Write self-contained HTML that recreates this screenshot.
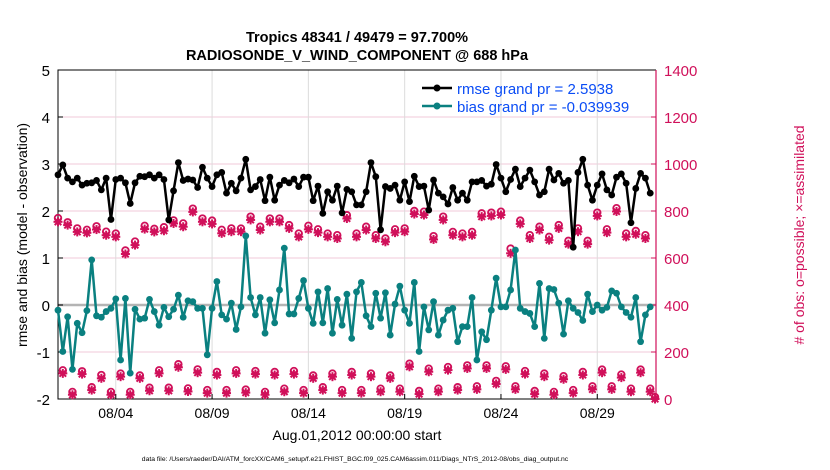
<!DOCTYPE html>
<html><head><meta charset="utf-8"><style>
body{margin:0;background:#fff;}
svg{display:block;font-family:"Liberation Sans",sans-serif;}
</style></head><body>
<svg id="chart" width="830" height="470" viewBox="0 0 830 470">
<text x="357" y="42" text-anchor="middle" font-size="14.5" font-weight="bold">Tropics 48341 / 49479 = 97.700%</text>
<text x="357" y="60" text-anchor="middle" font-size="14.5" font-weight="bold">RADIOSONDE_V_WIND_COMPONENT @ 688 hPa</text>
<g id="grid"></g>
<g id="axes"></g>
<g id="series"></g>
<g id="legend">
<line x1="422" y1="88" x2="452" y2="88" stroke="#000" stroke-width="2.5"/>
<circle cx="437" cy="88" r="3.5" fill="#000"/>
<text x="457" y="94" font-size="15" fill="#0a4cf5">rmse grand pr = 2.5938</text>
<line x1="422" y1="106" x2="452" y2="106" stroke="#0a8080" stroke-width="2.5"/>
<circle cx="437" cy="106" r="3.5" fill="#0a8080"/>
<text x="457" y="112" font-size="15" fill="#0a4cf5">bias grand pr = -0.039939</text>
</g>
<text transform="translate(27,235) rotate(-90)" text-anchor="middle" font-size="14">rmse and bias (model - observation)</text>
<text transform="translate(804,235) rotate(-90)" text-anchor="middle" font-size="14" fill="#d0105a"># of obs: o=possible; ×=assimilated</text>
<text x="357" y="440" text-anchor="middle" font-size="14">Aug.01,2012 00:00:00 start</text>
<text x="355" y="461" text-anchor="middle" font-size="6.8">data file: /Users/raeder/DAI/ATM_forcXX/CAM6_setup/f.e21.FHIST_BGC.f09_025.CAM6assim.011/Diags_NTrS_2012-08/obs_diag_output.nc</text>
</svg>
<script>
const rmse=[2.77,2.98,2.70,2.62,2.70,2.55,2.59,2.60,2.65,2.45,2.70,1.82,2.67,2.70,2.60,2.16,2.60,2.74,2.73,2.77,2.70,2.77,2.67,1.81,2.43,3.03,2.65,2.68,2.66,2.50,2.93,2.70,
2.52,2.77,2.82,2.38,2.59,2.43,2.70,3.10,2.45,2.52,2.67,2.22,2.72,2.23,2.55,2.65,2.60,2.68,2.52,2.72,2.72,2.22,2.53,1.95,2.41,2.23,2.53,1.96,2.46,2.41,2.13,2.13,
2.41,3.03,2.73,1.60,2.52,2.48,2.55,2.23,2.62,2.20,2.74,2.52,2.53,2.02,2.66,2.38,2.30,2.15,2.50,2.23,2.38,2.23,2.62,2.62,2.65,2.53,2.57,2.99,2.70,2.41,
2.67,2.89,2.52,2.70,2.87,2.62,2.34,2.41,2.89,2.66,2.80,2.59,2.65,1.23,2.82,3.10,2.55,2.23,2.55,2.79,2.45,2.34,2.72,2.79,2.59,1.75,2.48,2.80,2.70,2.38];
const bias=[-0.11,-0.99,-0.25,-1.37,-0.39,-0.59,-0.12,0.96,-0.23,-0.26,-0.14,-0.07,0.13,-1.17,0.14,-1.45,-0.09,-0.30,-0.28,0.12,-0.14,-0.43,-0.05,-0.25,-0.09,0.21,-0.26,0.09,0.07,-0.07,-0.07,-1.06,
-0.07,0.50,-0.21,-0.30,0.04,-0.52,-0.04,1.47,0.16,-0.21,0.16,-0.60,0.11,-0.38,0.32,1.21,-0.19,-0.19,0.14,0.52,-0.07,-0.39,0.28,-0.38,0.35,-0.60,0.12,-0.43,0.23,-0.71,0.28,0.48,
-0.23,-0.46,0.25,-0.28,0.26,-0.64,0.02,0.40,-0.11,-0.39,0.48,-0.99,-0.04,-0.53,0.07,-0.64,-0.32,-0.11,-0.07,-0.78,-0.46,-0.46,0.16,-1.17,-0.57,-0.74,-0.11,0.57,-0.04,-0.04,
0.32,1.17,-0.07,-0.14,-0.18,-0.46,0.46,-0.71,0.35,0.33,0.04,-0.62,0.09,-0.07,-0.16,-0.33,0.23,-0.14,0.00,-0.11,-0.05,0.30,0.25,-0.04,-0.16,-0.26,0.16,-0.78,-0.21,-0.04];
const assimilated=[754,109,740,18,711,106,707,38,721,88,697,18,690,95,617,18,655,88,723,35,711,109,716,35,747,135,733,32,796,112,754,25,
745,102,705,25,712,109,712,27,762,106,719,18,754,102,754,31,726,106,690,25,722,88,708,38,690,95,683,25,768,102,690,
25,719,95,683,31,669,88,708,31,712,137,787,21,783,116,679,31,762,123,697,38,690,130,697,41,776,130,779,64,783,126,
620,41,745,106,683,21,719,95,676,18,726,84,659,25,712,102,659,41,779,112,708,41,798,91,690,31,701,112,683,31,0];
const possible=[770,122,752,30,726,118,720,50,735,102,712,30,704,108,632,30,670,100,737,48,724,122,731,48,760,148,747,45,810,126,768,38,
759,115,720,38,726,122,725,40,776,119,733,30,768,115,768,44,740,119,704,38,737,100,722,50,704,108,697,38,782,115,704,
38,733,108,697,44,683,100,722,44,726,150,800,34,797,129,693,44,776,136,711,50,704,143,711,54,790,143,793,77,797,139,
640,54,759,119,697,34,733,108,690,30,740,97,673,38,726,115,673,54,793,125,722,54,812,104,704,44,715,125,697,44,8];
const xTickLabels=["08/04","08/09","08/14","08/19","08/24","08/29"];
const xTickDays=[3,8,13,18,23,28];
const yTicksLeft=[-2,-1,0,1,2,3,4,5];
const yTicksRight=[0,200,400,600,800,1000,1200,1400];

const L=58,R=656,T=70,B=399;
const NS="http://www.w3.org/2000/svg";
const xDay=d=>L+d*(R-L)/31.05;
const xIdx=i=>xDay(i*0.25);
const yL=v=>B-(v+2)*(B-T)/7;
const yR=v=>B-v*(B-T)/1400;
function mk(tag,attrs,parent){const e=document.createElementNS(NS,tag);for(const k in attrs)e.setAttribute(k,attrs[k]);parent.appendChild(e);return e;}
const grid=document.getElementById('grid'),axes=document.getElementById('axes'),ser=document.getElementById('series');
mk('rect',{x:L,y:T,width:R-L,height:B-T,fill:'#fff'},grid);
yTicksRight.forEach(v=>{const g=mk('line',{x1:L,x2:R,y1:yR(v),y2:yR(v),stroke:'#f2c8d8','stroke-width':1},grid);

});
xTickDays.forEach((d,i)=>{const g=mk('line',{x1:xDay(d),x2:xDay(d),y1:T,y2:B,stroke:'#dcdcdc','stroke-width':1},grid);


mk('line',{x1:xDay(d),x2:xDay(d),y1:B,y2:B-5,stroke:'#000'},axes);
const t=mk('text',{x:xDay(d),y:B+19,'text-anchor':'middle','font-size':14},axes);t.textContent=xTickLabels[i];

});
const zl=mk('line',{x1:L,x2:R,y1:yL(0),y2:yL(0),stroke:'#b4b4b4','stroke-width':2.5},grid);


yTicksLeft.forEach(v=>{mk('line',{x1:L,x2:L+5,y1:yL(v),y2:yL(v),stroke:'#000'},axes);
const t=mk('text',{x:L-8,y:yL(v)+6,'text-anchor':'end','font-size':15},axes);t.textContent=v;

});
yTicksRight.forEach(v=>{mk('line',{x1:R,x2:R-5,y1:yR(v),y2:yR(v),stroke:'#d0105a'},axes);
const t=mk('text',{x:R+8,y:yR(v)+6,'font-size':15,fill:'#d0105a'},axes);t.textContent=v;

});
mk('polyline',{points:`${R},${T} ${L},${T} ${L},${B} ${R},${B}`,fill:'none',stroke:'#000','stroke-width':1},axes);
mk('line',{x1:R,x2:R,y1:T,y2:B,stroke:'#d0105a','stroke-width':1.2},axes);

const pink='#d0105a';
assimilated.forEach((v,i)=>{const x=xIdx(i),y=yR(v);const g=mk('g',{stroke:pink,'stroke-width':2},ser);


mk('line',{x1:x-4.5,x2:x+4.5,y1:y,y2:y},g);mk('line',{x1:x,x2:x,y1:y-4.5,y2:y+4.5},g);
mk('line',{x1:x-3.3,x2:x+3.3,y1:y-3.3,y2:y+3.3},g);mk('line',{x1:x-3.3,x2:x+3.3,y1:y+3.3,y2:y-3.3},g);});
possible.forEach((v,i)=>{const c=mk('circle',{cx:xIdx(i),cy:yR(v),r:3.3,fill:'none',stroke:pink,'stroke-width':1.8},ser);

});
function line(arr,col,name){const p=mk('polyline',{points:arr.map((v,i)=>xIdx(i)+','+yL(v)).join(' '),fill:'none',stroke:col,'stroke-width':2.5,'stroke-linejoin':'round'},ser);


arr.forEach((v,i)=>{const c=mk('circle',{cx:xIdx(i),cy:yL(v),r:3.4,fill:col},ser);

});}
line(bias,'#0a8080','bias');
line(rmse,'#000','rmse');
</script>
</body></html>
